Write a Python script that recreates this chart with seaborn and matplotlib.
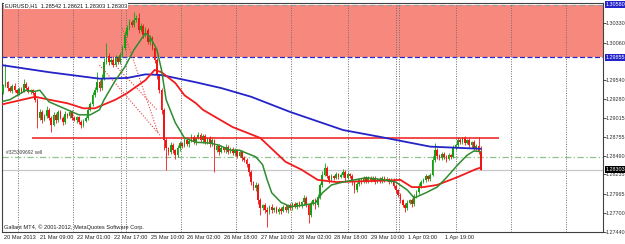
import numpy as np
import pandas as pd
import matplotlib
matplotlib.use("Agg")
import matplotlib.pyplot as plt
import matplotlib.transforms as mtransforms
from matplotlib import font_manager
import seaborn as sns

# ---------------- data ----------------
symbol_header = "EURUSD,H1  1.28542 1.28621 1.28303 1.28303"
footer_text = "Gallant MT4, \u00a9 2001-2012, MetaQuotes Software Corp."

time_labels = ["20 Mar 2013", "21 Mar 09:00", "22 Mar 01:00", "22 Mar 17:00",
               "25 Mar 10:00", "26 Mar 02:00", "26 Mar 18:00", "27 Mar 10:00",
               "28 Mar 02:00", "28 Mar 18:00", "29 Mar 10:00", "1 Apr 03:00",
               "1 Apr 19:00"]

first_open = 1.2938
closes = [
    1.2946, 1.2951, 1.2943, 1.2939, 1.2946, 1.2940, 1.2936, 1.2942, 1.2939, 1.2949,
    1.2943, 1.2938, 1.2940, 1.2936, 1.2927, 1.2902, 1.2910, 1.2899, 1.2904, 1.2913,
    1.2902, 1.2892, 1.2906, 1.2899, 1.2910, 1.2902, 1.2896, 1.2907, 1.2904, 1.2910,
    1.2902, 1.2899, 1.2903, 1.2896, 1.2892, 1.2898, 1.2902, 1.2913, 1.2921, 1.2933,
    1.2940, 1.2951, 1.2943, 1.2957, 1.2979, 1.2987, 1.2979, 1.2982, 1.2975, 1.2985,
    1.2979, 1.2989, 1.2998, 1.3016, 1.3026, 1.3034, 1.3030, 1.3037, 1.3040, 1.3023,
    1.3029, 1.3016, 1.3023, 1.3007, 1.3012, 1.2998, 1.2982, 1.2961, 1.2940, 1.2913,
    1.2871, 1.2860, 1.2855, 1.2864, 1.2857, 1.2850, 1.2860, 1.2867, 1.2863, 1.2871,
    1.2866, 1.2870, 1.2875, 1.2868, 1.2874, 1.2878, 1.2871, 1.2877, 1.2868, 1.2874,
    1.2866, 1.2871, 1.2857, 1.2863, 1.2855, 1.2860, 1.2857, 1.2862, 1.2855, 1.2859,
    1.2853, 1.2857, 1.2849, 1.2855, 1.2846, 1.2844, 1.2838, 1.2827, 1.2813, 1.2805,
    1.2809, 1.2788, 1.2777, 1.2781, 1.2774, 1.2772, 1.2779, 1.2774, 1.2777, 1.2772,
    1.2776, 1.2773, 1.2779, 1.2774, 1.2781, 1.2777, 1.2783, 1.2779, 1.2784, 1.2780,
    1.2785, 1.2791, 1.2781, 1.2768, 1.2784, 1.2788, 1.2781, 1.2792, 1.2809, 1.2823,
    1.2832, 1.2821, 1.2816, 1.2821, 1.2819, 1.2824, 1.2820, 1.2823, 1.2827, 1.2819,
    1.2824, 1.2821, 1.2813, 1.2802, 1.2810, 1.2816, 1.2813, 1.2819, 1.2814, 1.2819,
    1.2816, 1.2819, 1.2813, 1.2817, 1.2814, 1.2819, 1.2816, 1.2817, 1.2813, 1.2816,
    1.2808, 1.2802, 1.2795, 1.2788, 1.2781, 1.2777, 1.2784, 1.2788, 1.2783, 1.2794,
    1.2799, 1.2808, 1.2813, 1.2816, 1.2821, 1.2817, 1.2823, 1.2844, 1.2857, 1.2849,
    1.2846, 1.2852, 1.2848, 1.2845, 1.2850, 1.2848, 1.2860, 1.2864, 1.2871, 1.2868,
    1.2874, 1.2867, 1.2871, 1.2864, 1.2868, 1.2860, 1.2863, 1.28542, 1.28303,
]
upper_wick_pips = [
    3, 25, 2, 3, 2, 4, 2, 3, 2, 6,
    2, 3, 2, 2, 3, 2, 4, 2, 3, 5,
    2, 3, 4, 2, 3, 2, 3, 4, 2, 3,
    2, 3, 2, 2, 3, 2, 3, 4, 3, 5,
    4, 14, 3, 5, 6, 19, 4, 3, 5, 4,
    3, 4, 5, 6, 4, 5, 3, 11, 4, 7,
    4, 3, 5, 3, 4, 3, 2, 3, 2, 3,
    2, 3, 2, 4, 3, 2, 4, 3, 2, 3,
    3, 2, 4, 3, 2, 4, 3, 2, 3, 2,
    3, 4, 2, 3, 2, 3, 2, 3, 2, 3,
    2, 3, 2, 3, 2, 3, 2, 2, 3, 2,
    4, 2, 3, 2, 3, 4, 2, 3, 2, 3,
    2, 3, 2, 3, 2, 3, 2, 3, 2, 3,
    2, 4, 3, 2, 3, 2, 3, 4, 3, 5,
    8, 3, 2, 3, 2, 3, 2, 3, 4, 2,
    3, 2, 3, 2, 3, 2, 3, 2, 3, 2,
    2, 3, 2, 2, 3, 2, 2, 3, 2, 2,
    3, 2, 2, 3, 2, 3, 4, 2, 3, 3,
    3, 4, 3, 2, 3, 2, 3, 5, 10, 3,
    3, 2, 3, 2, 3, 2, 4, 3, 4, 3,
    2, 3, 2, 3, 2, 3, 3, 12, 8,
]
lower_wick_pips = [
    3, 2, 4, 2, 3, 2, 4, 2, 3, 2,
    3, 2, 3, 2, 3, 14, 3, 4, 2, 3,
    3, 10, 2, 4, 3, 2, 4, 3, 2, 3,
    3, 2, 4, 3, 4, 3, 2, 3, 2, 3,
    2, 3, 4, 2, 3, 3, 4, 2, 3, 2,
    3, 2, 3, 2, 3, 2, 3, 2, 3, 4,
    3, 4, 2, 3, 4, 3, 4, 5, 4, 6,
    14, 30, 4, 3, 4, 5, 3, 4, 3, 2,
    3, 4, 2, 3, 4, 2, 3, 4, 3, 2,
    4, 3, 30, 3, 4, 2, 3, 4, 3, 2,
    3, 4, 3, 2, 4, 3, 4, 5, 4, 3,
    4, 5, 10, 3, 4, 21, 3, 4, 3, 2,
    3, 4, 2, 3, 4, 2, 3, 2, 3, 2,
    3, 4, 3, 12, 4, 3, 5, 3, 2, 3,
    2, 3, 4, 2, 3, 2, 3, 2, 3, 4,
    2, 3, 4, 4, 3, 2, 3, 2, 3, 2,
    3, 2, 3, 2, 3, 2, 3, 2, 3, 2,
    3, 4, 3, 4, 3, 6, 3, 2, 4, 3,
    3, 2, 3, 2, 3, 2, 3, 2, 3, 4,
    3, 2, 3, 4, 2, 3, 2, 3, 2, 3,
    2, 3, 2, 3, 4, 2, 3, 2, 0,
]

# moving averages (read at sampled bars)
ma_fast_bars = [-1, 3, 10, 13, 16, 20, 28, 33, 38, 42, 44, 49, 53, 57, 62, 64, 67, 69, 71, 75,
                79, 84, 90, 94, 99, 103, 106, 110, 113, 115, 117, 121, 125, 131, 136, 139, 143,
                148, 153, 158, 166, 171, 176, 179, 184, 189, 193, 198, 202, 205, 208]
ma_fast = [1.2924, 1.2927, 1.2940, 1.2938, 1.2940, 1.2924, 1.2913, 1.2906, 1.2906, 1.2913,
           1.2927, 1.2954, 1.2972, 1.2996, 1.3019, 1.3014, 1.2996, 1.2968, 1.2927, 1.2895,
           1.2874, 1.2868, 1.2867, 1.2864, 1.2857, 1.2857, 1.2853, 1.2848, 1.2837, 1.2816,
           1.2798, 1.2785, 1.2779, 1.2781, 1.2784, 1.2798, 1.2809, 1.2813, 1.2816, 1.2819,
           1.2816, 1.2813, 1.2802, 1.2791, 1.2798, 1.2806, 1.2819, 1.2837, 1.2850, 1.2856,
           1.2855]
ma_mid_bars = [-1, 14, 20, 28, 35, 40, 49, 54, 62, 66, 69, 75, 79, 84, 87, 100, 112, 123, 130,
               137, 145, 166, 173, 178, 183, 189, 198, 206, 208]
ma_mid = [1.2920, 1.2931, 1.2927, 1.2922, 1.2915, 1.2915, 1.2927, 1.2936, 1.2954, 1.2968,
          1.2965, 1.2950, 1.2933, 1.2922, 1.2913, 1.2889, 1.2874, 1.2841, 1.2830, 1.2816,
          1.2813, 1.2815, 1.2816, 1.2806, 1.2806, 1.2809, 1.2820, 1.2831, 1.2833]
ma_slow_bars = [-1, 20, 42, 54, 62, 69, 84, 95, 108, 125, 148, 165, 186, 208]
ma_slow = [1.2975, 1.2965, 1.2956, 1.2957, 1.2962, 1.2961, 1.2951, 1.2943, 1.2931, 1.2910,
           1.2885, 1.2875, 1.2862, 1.2859]

# dotted trend lines
trend_start_bars = [52, 47.5, 42]
trend_start_prices = [1.3026, 1.2979, 1.2975]
trend_end_bars = [67.5, 67, 68.3]
trend_end_prices = [1.2881, 1.2913, 1.2878]

zone_low, zone_high = 1.29855, 1.30580
order_price = 1.2874
order_start_bar, order_end_bar = 12.6, 216
order_label = "#325309692 sell"
sell_level = 1.28477
bid_price = 1.28303
price_ticks = [1.30330, 1.30060, 1.29540, 1.29280, 1.29015, 1.28755, 1.28490,
               1.28235, 1.27965, 1.27700, 1.27440]
separator_bars = [6.5, 30.5, 51.5, 53.5, 77.5, 101.5, 125.5, 150, 171, 172.5, 197, 221, 245]

# ---------------- fonts ----------------
sns.set_style("white")


def pick_font(cands):
    for fam, size in cands:
        try:
            font_manager.findfont(font_manager.FontProperties(family=fam),
                                  fallback_to_default=False)
            return fam, size
        except Exception:
            continue
    return "DejaVu Sans", 3.8


FONT, FS = pick_font([("Liberation Sans Narrow", 5.0), ("DejaVu Sans Condensed", 4.4),
                      ("Liberation Sans", 4.1)])
YFS = FS * 0.94
plt.rcParams["font.family"] = [FONT, "DejaVu Sans"]

# ---------------- figure ----------------
W, H = 625, 244
fig = plt.figure(figsize=(W / 100, H / 100), dpi=100)
ax = fig.add_axes([2 / W, 1 - 232 / H, 601 / W, 229 / H])
ax.set_xlim(-0.435, 261.2)
ax.set_ylim(1.27439, 1.30607)

# supply zone
ax.axhspan(zone_low, zone_high, color="#F6887E", zorder=0, lw=0)
ax.axhline(zone_high, color="#9A9A9A", ls=(0, (4, 3)), lw=0.9, zorder=1)
ax.axhline(zone_low, color="#2A2ACF", ls=(0, (4, 2)), lw=0.9, zorder=1)

# separators
for b in separator_bars:
    ax.axvline(b, color="#6E6E6E", ls=(0, (1, 1.5)), lw=0.7, zorder=1)

# levels
ax.axhline(sell_level, color="#8FC28F", ls=(0, (5, 2, 1, 2)), lw=0.9, zorder=1)
ax.axhline(bid_price, color="#C8C8C8", lw=0.9, zorder=1)

# candles
bars = np.arange(len(closes))
opens = np.array([first_open] + closes[:-1])
cl = np.array(closes)
tops = np.maximum(opens, cl)
bots = np.minimum(opens, cl)
highs = tops + np.array(upper_wick_pips) / 10000.0
lows = bots - np.array(lower_wick_pips) / 10000.0
cols = np.where(cl >= opens, "#14A014", "#F01414")
ax.vlines(bars, lows, highs, colors=cols, lw=0.6, zorder=3)
ax.bar(bars, np.maximum(tops - bots, 0.00005), bottom=bots, width=0.72,
       color=cols, linewidth=0, zorder=3)

# dotted trend lines
for xs, ys, xe, ye in zip(trend_start_bars, trend_start_prices, trend_end_bars, trend_end_prices):
    ax.plot([xs, xe], [ys, ye], color="#E84040", ls=(0, (1, 1.5)), lw=0.8, zorder=4)

# order line
ax.hlines(order_price, order_start_bar, order_end_bar, color="#F01A1A", lw=1.1, zorder=4)

# moving averages
df_fast = pd.DataFrame({"bar": ma_fast_bars, "price": ma_fast})
df_mid = pd.DataFrame({"bar": ma_mid_bars, "price": ma_mid})
df_slow = pd.DataFrame({"bar": ma_slow_bars, "price": ma_slow})
sns.lineplot(data=df_slow, x="bar", y="price", color="#2323C8", lw=1.3, ax=ax, sort=False, zorder=5)
sns.lineplot(data=df_mid, x="bar", y="price", color="#F21C1C", lw=1.3, ax=ax, sort=False, zorder=5)
sns.lineplot(data=df_fast, x="bar", y="price", color="#2E8B2E", lw=1.1, ax=ax, sort=False, zorder=5)

# axes styling
for s in ax.spines.values():
    s.set_color("#404040")
    s.set_linewidth(0.8)
ax.set_xlabel("")
ax.set_ylabel("")
ax.yaxis.tick_right()
ax.set_yticks(price_ticks)
ax.set_yticklabels([f"{v:.5f}" for v in price_ticks])
ax.tick_params(axis="y", labelsize=YFS, length=1.8, width=0.6, pad=0.3, colors="#303030",
               right=True, left=False)
tick_pos = [16 * k - 0.45 for k in range(len(time_labels))]
ax.set_xticks(tick_pos)
ax.tick_params(axis="x", length=3, width=0.6, labelbottom=False, colors="#303030")
trans = mtransforms.blended_transform_factory(ax.transData, ax.transAxes)
for p, lab in zip(tick_pos, time_labels):
    ax.text(p + 0.7, -0.015, lab, transform=trans, ha="left", va="top", fontsize=FS,
            color="#202020", clip_on=False)

# highlighted price labels
ytrans = mtransforms.blended_transform_factory(ax.transAxes, ax.transData)
for val, bg in [(zone_high, "#2323C8"), (zone_low, "#2323C8"), (bid_price, "#000000")]:
    ax.text(1.0045, val, f"{val:.5f}", transform=ytrans, ha="left", va="center",
            fontsize=YFS, color="white", clip_on=False, zorder=10,
            bbox=dict(boxstyle="square,pad=0.18", fc=bg, ec="none"))

# texts
fig.text(5 / W, 1 - 6 / H, symbol_header, ha="left", va="center", fontsize=FS, color="#101010",
         bbox=dict(boxstyle="square,pad=0.15", fc="white", ec="none"), zorder=10)
fig.text(4 / W, 1 - 227 / H, footer_text, ha="left", va="center", fontsize=FS, color="#202020")
ax.text(1.5, sell_level + 0.00025, order_label, ha="left", va="bottom", fontsize=FS * 0.85,
        color="#404040", zorder=6)

fig.savefig("out.png", dpi=100)
